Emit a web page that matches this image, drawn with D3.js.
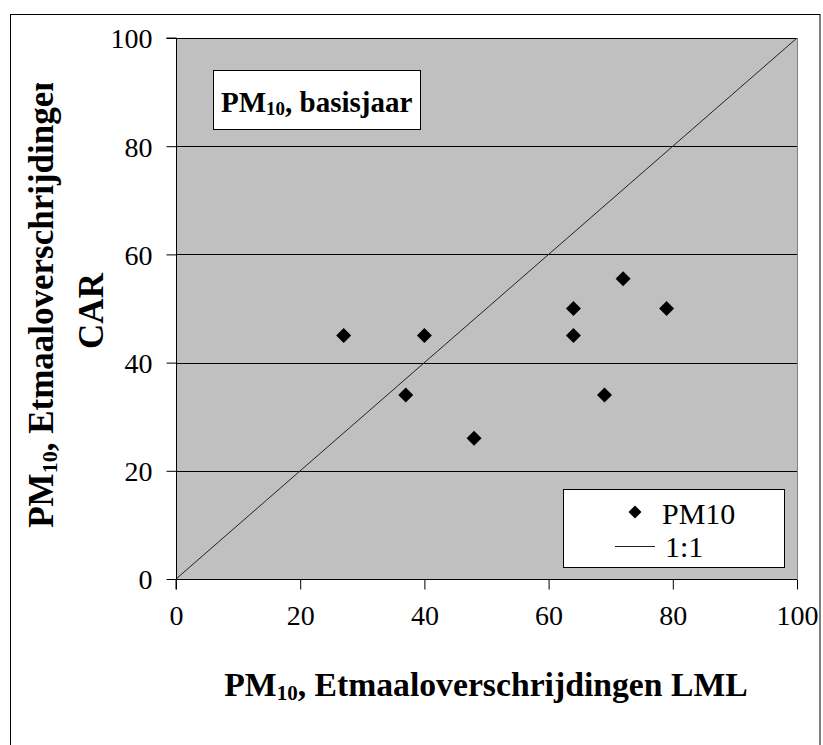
<!DOCTYPE html>
<html>
<head>
<meta charset="utf-8">
<script src="https://cdn.jsdelivr.net/npm/d3@7"></script>
<style>
  html, body { margin: 0; padding: 0; background: #fff; }
  svg { display: block; }
  text { font-family: "Liberation Serif", "Times New Roman", serif; fill: #000; }
</style>
</head>
<body>
<svg id="chart" width="823" height="745"></svg>
<script>
// Data
const lmlValues = [27, 37, 40, 48, 64, 64, 69, 72, 79];
const carValues = [45, 34, 45, 26, 50, 45, 34, 55.5, 50];
const xTicks = [0, 20, 40, 60, 80, 100];
const yTicks = [0, 20, 40, 60, 80, 100];
const oneToOne = [[0, 0], [100, 100]];
const legendLabels = ["PM10", "1:1"];

const svg = d3.select("#chart");

// Outer frame
svg.append("rect")
  .attr("x", 10.5).attr("y", 14.5)
  .attr("width", 809.5).attr("height", 800)
  .attr("fill", "#fff").attr("stroke", "#000").attr("stroke-width", 1);

const x = d3.scaleLinear().domain([0, 100]).range([176, 797]);
const y = d3.scaleLinear().domain([0, 100]).range([579, 38]);

// Plot area
svg.append("rect")
  .attr("x", x(0)).attr("y", y(100))
  .attr("width", x(100) - x(0)).attr("height", y(0) - y(100))
  .attr("fill", "#c0c0c0");

// right edge
svg.append("line")
  .attr("x1", x(100) + 0.5).attr("x2", x(100) + 0.5)
  .attr("y1", y(100)).attr("y2", y(0))
  .attr("stroke", "#808080").attr("stroke-width", 1);

// Gridlines
svg.append("g").selectAll("line")
  .data(yTicks.filter(d => d > 0))
  .join("line")
  .attr("x1", x(0)).attr("x2", x(100))
  .attr("y1", d => Math.round(y(d)) + 0.5).attr("y2", d => Math.round(y(d)) + 0.5)
  .attr("stroke", "#000").attr("stroke-width", 1);

// 1:1 line
const line = d3.line().x(d => x(d[0])).y(d => y(d[1]));
svg.append("path")
  .attr("d", line(oneToOne))
  .attr("fill", "none").attr("stroke", "#222").attr("stroke-width", 1);

// Axes
const yAxis = d3.axisLeft(y).tickValues(yTicks).tickSize(10).tickPadding(14);
const gy = svg.append("g").attr("transform", `translate(${x(0) + 0.5},0)`).call(yAxis);
gy.selectAll(".tick line").attr("stroke", "#000");
gy.select(".domain").attr("stroke", "#000").attr("d", `M-10,${y(100)}H0V${y(0)}`);
gy.selectAll("text").style("font-size", "28px").style("font-family", "Liberation Serif").attr("dy", "0.35em");

const xAxis = d3.axisBottom(x).tickValues(xTicks).tickSize(10).tickPadding(14);
const gx = svg.append("g").attr("transform", `translate(0,${y(0) + 0.5})`).call(xAxis);
gx.selectAll(".tick line").attr("stroke", "#000");
gx.select(".domain").attr("stroke", "#000").attr("d", `M${x(0)},10V0H${x(100)}`);
gx.selectAll("text").style("font-size", "28px").style("font-family", "Liberation Serif").attr("dy", "0.78em");

// Points
const diamond = d3.symbol().type(d3.symbolSquare).size(112);
svg.append("g").selectAll("path")
  .data(lmlValues.map((v, i) => [v, carValues[i]]))
  .join("path")
  .attr("d", diamond)
  .attr("transform", d => `translate(${x(d[0])},${y(d[1])}) rotate(45)`)
  .attr("fill", "#000");

// Title box
svg.append("rect")
  .attr("x", 213.5).attr("y", 70.5).attr("width", 207).attr("height", 59)
  .attr("fill", "#fff").attr("stroke", "#000").attr("stroke-width", 1);
const tt = svg.append("text").attr("x", 221).attr("y", 112)
  .style("font-size", "29px").style("font-weight", "bold");
tt.append("tspan").text("PM");
tt.append("tspan").attr("dy", 3).style("font-size", "19px").text("10");
tt.append("tspan").attr("dy", -3).text(", basisjaar");

// Legend
svg.append("rect")
  .attr("x", 563.5).attr("y", 489.5).attr("width", 221).attr("height", 78)
  .attr("fill", "#fff").attr("stroke", "#000").attr("stroke-width", 1);
svg.append("path")
  .attr("d", d3.symbol().type(d3.symbolSquare).size(84)())
  .attr("transform", "translate(635,512) rotate(45)")
  .attr("fill", "#000");
svg.append("text").attr("x", 662).attr("y", 524)
  .style("font-size", "30px").text(legendLabels[0]);
svg.append("line")
  .attr("x1", 615).attr("x2", 655).attr("y1", 546.5).attr("y2", 546.5)
  .attr("stroke", "#222").attr("stroke-width", 1);
svg.append("text").attr("x", 665).attr("y", 557)
  .style("font-size", "30px").text(legendLabels[1]);

// X axis title
const xt = svg.append("text").attr("x", 486).attr("y", 696)
  .attr("text-anchor", "middle")
  .style("font-size", "33.7px").style("font-weight", "bold");
xt.append("tspan").text("PM");
xt.append("tspan").attr("dy", 4).style("font-size", "21px").text("10");
xt.append("tspan").attr("dy", -4).text(", Etmaaloverschrijdingen LML");

// Y axis title (clipped at top like the reference)
svg.append("clipPath").attr("id", "yclip")
  .append("rect").attr("x", 0).attr("y", 83).attr("width", 170).attr("height", 600);
const yg = svg.append("g").attr("clip-path", "url(#yclip)");
const yt1 = yg.append("text")
  .attr("transform", "translate(53,300) rotate(-90)")
  .attr("text-anchor", "middle")
  .style("font-size", "35px").style("font-weight", "bold");
yt1.append("tspan").text("PM");
yt1.append("tspan").attr("dy", 4).style("font-size", "22px").text("10");
yt1.append("tspan").attr("dy", -4).text(", Etmaaloverschrijdingen");
yg.append("text")
  .attr("transform", "translate(103,311) rotate(-90)")
  .attr("text-anchor", "middle")
  .style("font-size", "35px").style("font-weight", "bold")
  .text("CAR");
</script>
</body>
</html>
